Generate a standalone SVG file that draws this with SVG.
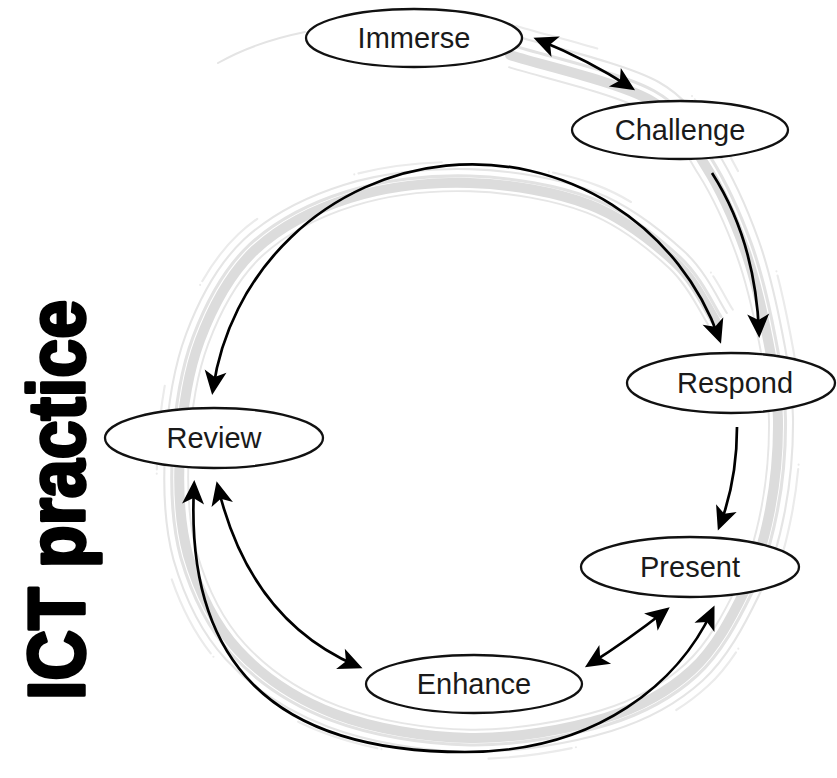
<svg xmlns="http://www.w3.org/2000/svg" width="837" height="778" viewBox="0 0 837 778">
  <style>
    .node ellipse { fill: #ffffff; stroke: #111111; stroke-width: 2.3; }
    .node text { font-family: "Liberation Sans", Arial, sans-serif; font-size: 29px; fill: #1a1a1a; text-anchor: middle; }
    .conn { fill: none; stroke: #000000; stroke-width: 2.7; }
    .ring { fill: none; stroke-linecap: round; }
    .title { font-family: "Liberation Sans", Arial, sans-serif; font-weight: bold; font-size: 80px; fill: #000000; stroke: #000000; stroke-width: 3.5; stroke-linejoin: round; }
  </style>
  <defs>
    <marker id="ah" viewBox="-20 -12 27 24" refX="0" refY="0" markerWidth="27" markerHeight="24" markerUnits="userSpaceOnUse" orient="auto-start-reverse">
      <path d="M6,0 L-18,-11 L-12,0 L-18,11 Z" fill="#000000"/>
    </marker>
    <path id="spiral" d="M510,55 C533,63 617.5,81.7 650,100 C682.5,118.3 689.2,140 705,165 C720.8,190 734.5,220.8 745,250 C755.5,279.2 762.5,311.7 768,340 C773.5,368.3 777.7,391.7 778,420 C778.3,448.3 775.5,481.7 770,510 C764.5,538.3 758,563.3 745,590 C732,616.7 715.3,648.7 692,670 C668.7,691.3 642,706.7 605,718 C568,729.3 515,738.7 470,738 C425,737.3 373.7,728.7 335,714 C296.3,699.3 262.5,676.5 238,650 C213.5,623.5 197.7,588.3 188,555 C178.8,520.8 178,485.8 180,450 C182,414.2 187.5,373.3 200,340 C212.5,306.7 230,273.7 255,250 C280.8,226.3 314.2,209.2 350,198 C385.8,186.8 430,181.8 470,183 C510,184.2 555.8,191.8 590,205 C624.2,218.2 654.2,242.8 675,262 C695.8,281.2 708.3,310.3 715,320"/>
  </defs>

  <rect width="837" height="778" fill="#ffffff"/>

  <g id="background-ring">
    <path class="ring" d="M218,63 Q255,42 305,32" stroke="#e4e4e4" stroke-width="2"/>
    <use href="#spiral" class="ring" stroke="#ebebeb" stroke-width="2" pathLength="100" stroke-dasharray="0 4 78 100" transform="translate(478,460) scale(1.075) translate(-478,-460)"/>
    <use href="#spiral" class="ring" stroke="#e5e5e5" stroke-width="2" transform="translate(478,460) scale(1.05) translate(-478,-460)"/>
    <use href="#spiral" class="ring" stroke="#e2e2e2" stroke-width="3" transform="translate(478,460) scale(1.025) translate(-478,-460)"/>
    <use href="#spiral" class="ring" stroke="#dcdcdc" stroke-width="10"/>
    <use href="#spiral" class="ring" stroke="#e6e6e6" stroke-width="2" transform="translate(478,460) scale(0.97) translate(-478,-460)"/>
  </g>

  <g id="connectors">
    <path class="conn" d="M539,40 Q588,60 630,87" marker-start="url(#ah)" marker-end="url(#ah)"/>
    <path class="conn" d="M712,173 Q755,240 759,332" marker-end="url(#ah)"/>
    <path class="conn" d="M213,389 A262,262 0 0 1 719,338" marker-start="url(#ah)" marker-end="url(#ah)"/>
    <path class="conn" d="M737,427 Q737,480 720,525" marker-end="url(#ah)"/>
    <path class="conn" d="M218,487 Q250,620 357,666" marker-start="url(#ah)" marker-end="url(#ah)"/>
    <path class="conn" d="M590,664 Q628,640 665,611" marker-start="url(#ah)" marker-end="url(#ah)"/>
    <path class="conn" d="M194,486 C185,660 270,752 465,752 C600,752 680,680 712,611" marker-start="url(#ah)" marker-end="url(#ah)"/>
  </g>

  <g id="node-immerse" class="node">
    <ellipse cx="414" cy="38" rx="108" ry="29"/>
    <text x="414" y="48">Immerse</text>
  </g>
  <g id="node-challenge" class="node">
    <ellipse cx="680" cy="130" rx="108" ry="29"/>
    <text x="680" y="140">Challenge</text>
  </g>
  <g id="node-respond" class="node">
    <ellipse cx="731" cy="383" rx="104" ry="30"/>
    <text x="735" y="393">Respond</text>
  </g>
  <g id="node-review" class="node">
    <ellipse cx="214" cy="438" rx="109" ry="30"/>
    <text x="214" y="448">Review</text>
  </g>
  <g id="node-present" class="node">
    <ellipse cx="690" cy="567" rx="109" ry="30"/>
    <text x="690" y="577">Present</text>
  </g>
  <g id="node-enhance" class="node">
    <ellipse cx="474" cy="684" rx="108" ry="29"/>
    <text x="474" y="694">Enhance</text>
  </g>

  <g id="title">
    <text class="title" transform="translate(84,700) rotate(-90)" textLength="400" lengthAdjust="spacingAndGlyphs">ICT practice</text>
  </g>
</svg>
